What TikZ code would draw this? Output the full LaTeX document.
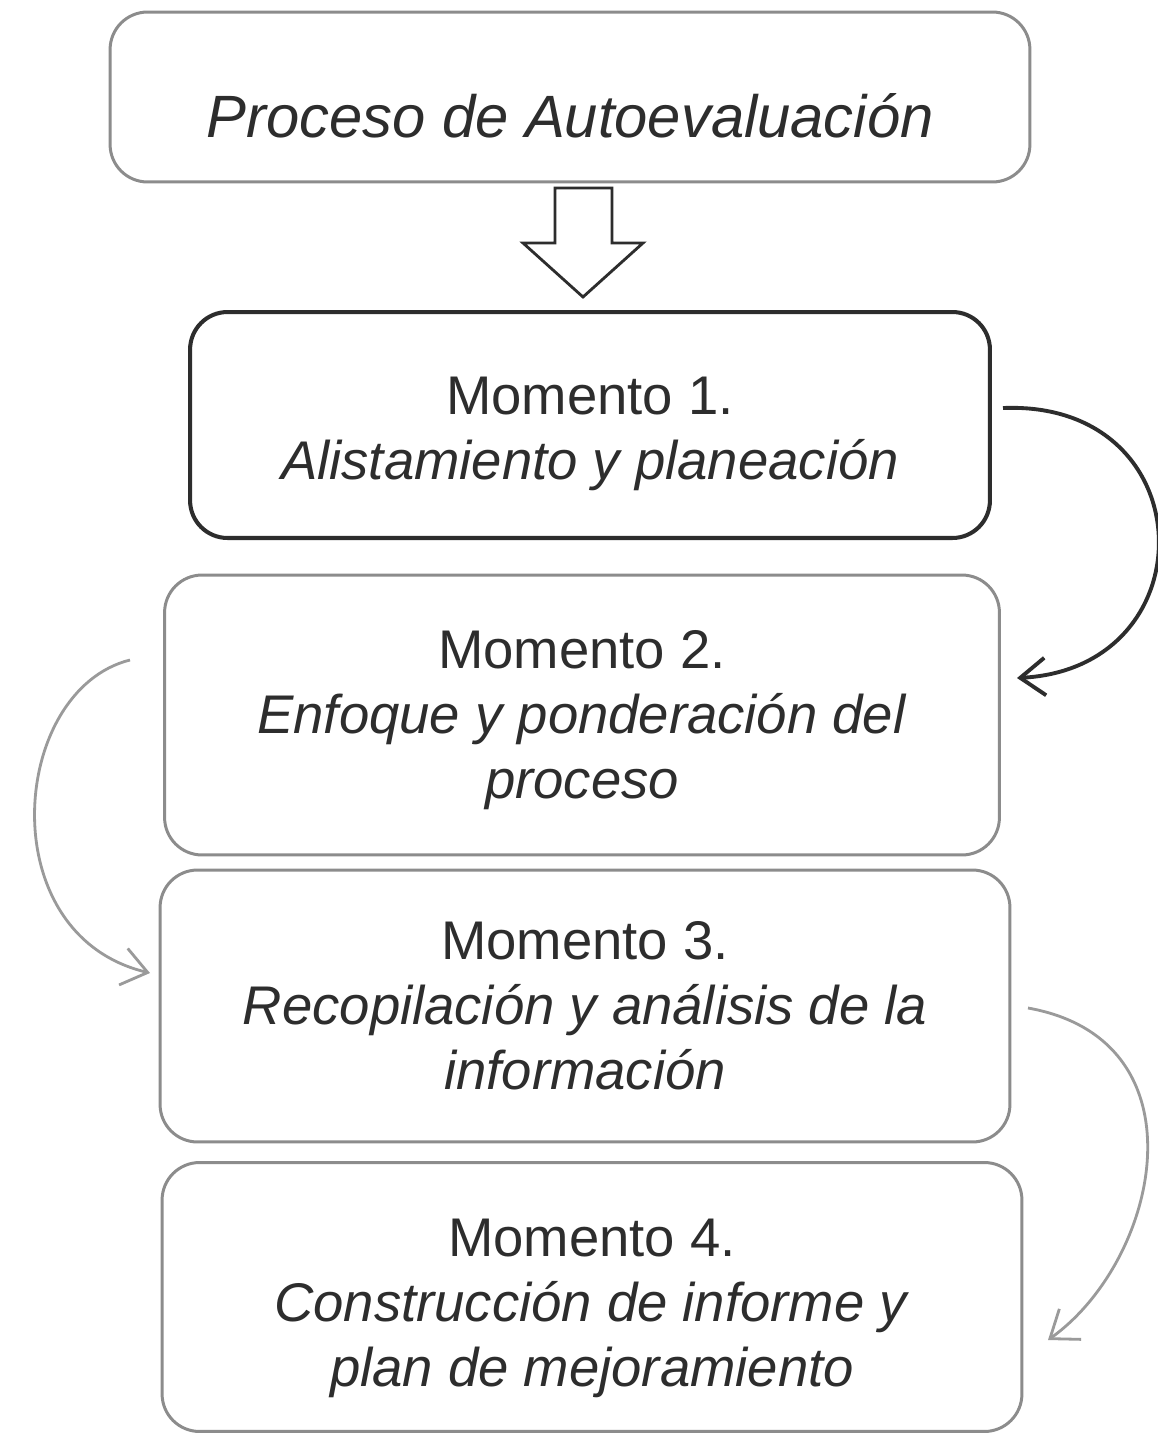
\documentclass[tikz,border=0pt]{standalone}
\usepackage{fontspec}
\setmainfont{Liberation Sans}
\usepackage{xcolor}
\usetikzlibrary{arrows.meta}
\definecolor{tinta}{HTML}{2D2D2D}
\definecolor{borde}{HTML}{8C8C8C}
\definecolor{flecha}{HTML}{9A9A9A}
\newcommand{\holgura}[1]{\rule{0pt}{#1}}

\tikzset{
  caja/.style={draw=borde, line width=1.7pt, rounded corners=0.75cm, align=center, inner sep=0pt},
  cajaoscura/.style={caja, draw=tinta, line width=2.3pt},
  curva/.style={flecha, line width=1.6pt, -{Straight Barb[length=0.5cm, width=0.75cm]}},
  curvaoscura/.style={curva, tinta, line width=2.2pt}
}

\begin{document}
\begin{tikzpicture}[x=0.02cm, y=-0.02cm, text=tinta, font=\fontsize{31pt}{37pt}\selectfont]
    \useasboundingbox (0,0) rectangle (1158,1434);
    \fill[white] (0,0) rectangle (1158,1434);
    % cajas
    \node[caja, minimum width=18.4cm, minimum height=3.4cm, text height=1.94cm, text depth=0.3cm,
      font=\fontsize{34pt}{40pt}\selectfont\itshape]
      (proceso) at (570,97) {Proceso de Autoevaluación};
    \node[cajaoscura, minimum width=16cm, minimum height=4.52cm]
      (m1) at (590,425) {\holgura{31pt}Momento 1.\\ \textit{Alistamiento y planeación}};
    \node[caja, minimum width=16.7cm, minimum height=5.6cm]
      (m2) at (582,715) {\holgura{27pt}Momento 2.\\ \textit{Enfoque y ponderación del}\\ \textit{proceso}};
    \node[caja, minimum width=17cm, minimum height=5.44cm]
      (m3) at (585,1006) {Momento 3.\\ \textit{Recopilación y análisis de la}\\ \textit{información}};
    \node[caja, minimum width=17.2cm, minimum height=5.38cm]
      (m4) at (592,1297) {\holgura{34pt}Momento 4.\\ \textit{Construcción de informe y}\\ \textit{plan de mejoramiento}};
    % flecha hueca
    \draw[tinta, line width=1.6pt] (555,188) -- (612,188) -- (612,243) -- (643,243)
      -- (583,297) -- (523,243) -- (555,243) -- cycle;
    % flechas curvas
    \coordinate (s1) at (1003,408);
    \coordinate (e1) at (1017,678);
    \coordinate (s2) at (130,660);
    \coordinate (e2) at (150,973);
    \coordinate (s3) at (1028,1008);
    \coordinate (e3) at (1048,1340);
    \draw[curvaoscura] (s1) .. controls (1205,400) and (1210,668) .. (e1);
    \draw[curva] (s2) .. controls (10,690) and (-10,935) .. (e2);
    \draw[curva] (s3) .. controls (1207,1040) and (1160,1260) .. (e3);
\end{tikzpicture}
\end{document}
